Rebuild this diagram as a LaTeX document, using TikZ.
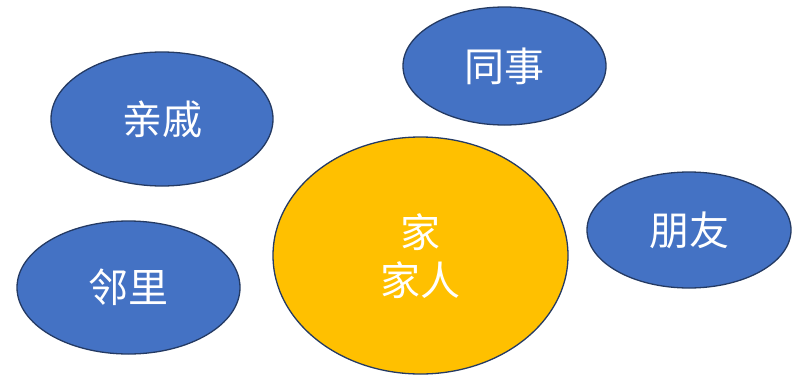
\documentclass[tikz,border=0pt]{standalone}
\usepackage{fontspec}
\newfontfamily\cjk{Noto Sans CJK SC}
\usetikzlibrary{shapes.geometric}
\definecolor{blueFill}{HTML}{4472C4}
\definecolor{goldFill}{HTML}{FFC000}
\definecolor{edgeNavy}{HTML}{243A63}
\tikzset{
  bubble/.style={ellipse, draw=edgeNavy, line width=1.3pt, fill=blueFill, inner sep=0pt,
    text=white, font=\cjk\fontsize{40}{48}\selectfont, align=center},
  core/.style={bubble, fill=goldFill}
}
\begin{document}
\begin{tikzpicture}[x=1pt, y=-1pt]
\useasboundingbox (0,0) rectangle (794,378);
\node[bubble, minimum width=222pt, minimum height=134pt] (qinqi) at (162,119) {亲戚};
\node[bubble, minimum width=203pt, minimum height=118pt] (tongshi) at (504.5,66) {同事};
\node[bubble, minimum width=204pt, minimum height=116pt] (pengyou) at (689,230) {朋友};
\node[bubble, minimum width=223pt, minimum height=133pt] (linli) at (128.5,287.5) {邻里};
\node[core, minimum width=295pt, minimum height=237pt] (jia) at (420.5,255.5) {};
\node[text=white, font=\cjk\fontsize{40}{48}\selectfont, align=center] (jiatext) at ([yshift=-1pt]jia.center) {家\\家人};
\end{tikzpicture}
\end{document}
